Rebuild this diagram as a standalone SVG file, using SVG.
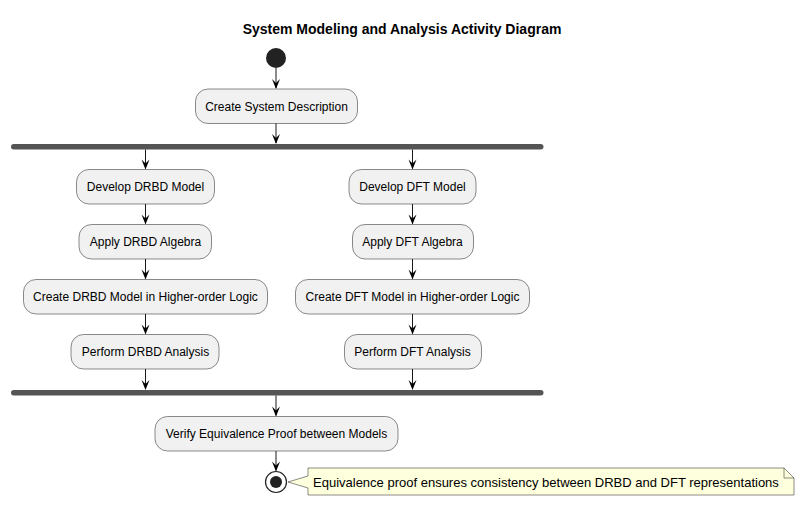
<svg xmlns="http://www.w3.org/2000/svg" width="805" height="506" viewBox="0 0 805 506">
<style>
.act rect{fill:#F1F1F1;stroke:#181818;stroke-width:0.5}
.act text{font-family:"Liberation Sans",Arial,sans-serif;font-size:12px;fill:#000;text-anchor:middle}
.bar{fill:#555555}
.edge line{stroke:#181818;stroke-width:1}
.edge polygon{fill:#181818;stroke:#181818;stroke-width:1}
.title{font-family:"Liberation Sans",Arial,sans-serif;font-size:14px;font-weight:bold;text-anchor:middle}
.note text{font-family:"Liberation Sans",Arial,sans-serif;font-size:13px}
</style>
<defs>
<polygon id="ah" points="-4,-10 0,0 4,-10 0,-6"/>
</defs>
<rect width="805" height="506" fill="#FFFFFF"/>
<text class="title" x="402" y="34">System Modeling and Analysis Activity Diagram</text>

<g id="start"><circle cx="276" cy="58" r="10" fill="#222222"/></g>

<g id="n1" class="act"><rect x="195.5" y="89" width="162" height="34.5" rx="12.5"/><text x="276.5" y="110.5">Create System Description</text></g>

<g id="fork"><rect class="bar" x="11" y="144" width="532.5" height="5.5" rx="2.75"/></g>

<g id="d1" class="act"><rect x="76.5" y="169.5" width="138" height="34.5" rx="12.5"/><text x="145.5" y="191">Develop DRBD Model</text></g>
<g id="d2" class="act"><rect x="79" y="224.5" width="132.5" height="34.5" rx="12.5"/><text x="145.5" y="246">Apply DRBD Algebra</text></g>
<g id="d3" class="act"><rect x="23.5" y="279.5" width="244" height="34.5" rx="12.5"/><text x="145.5" y="301">Create DRBD Model in Higher-order Logic</text></g>
<g id="d4" class="act"><rect x="71" y="334.5" width="148" height="34.5" rx="12.5"/><text x="145.5" y="356">Perform DRBD Analysis</text></g>

<g id="f1" class="act"><rect x="349" y="169.5" width="127" height="34.5" rx="12.5"/><text x="412.5" y="191">Develop DFT Model</text></g>
<g id="f2" class="act"><rect x="352.5" y="224.5" width="121" height="34.5" rx="12.5"/><text x="412.5" y="246">Apply DFT Algebra</text></g>
<g id="f3" class="act"><rect x="295.5" y="279.5" width="234" height="34.5" rx="12.5"/><text x="412.5" y="301">Create DFT Model in Higher-order Logic</text></g>
<g id="f4" class="act"><rect x="344.5" y="334.5" width="137" height="34.5" rx="12.5"/><text x="412.5" y="356">Perform DFT Analysis</text></g>

<g id="join"><rect class="bar" x="11" y="390" width="532.5" height="5.5" rx="2.75"/></g>

<g id="v" class="act"><rect x="155" y="416.5" width="243" height="34.5" rx="12.5"/><text x="276.5" y="438">Verify Equivalence Proof between Models</text></g>

<g id="end"><circle cx="276" cy="482" r="10.5" fill="none" stroke="#222222" stroke-width="1.2"/><circle cx="276" cy="482" r="6" fill="#222222"/></g>

<g id="note" class="note">
<path d="M308,468 L784,468 L794,478 L794,495 L308,495 L308,488 L288,482 L308,476 Z" fill="#FEFFDD" stroke="#181818" stroke-width="0.5"/>
<path d="M784,468 L784,478 L794,478" fill="none" stroke="#181818" stroke-width="0.5"/>
<text x="313" y="486.5">Equivalence proof ensures consistency between DRBD and DFT representations</text>
</g>

<g id="connectors" class="edge">
<line x1="276" y1="68" x2="276" y2="88"/><use href="#ah" x="276" y="89"/>
<line x1="276" y1="123.5" x2="276" y2="143"/><use href="#ah" x="276" y="144"/>
<line x1="145.5" y1="149.5" x2="145.5" y2="168.5"/><use href="#ah" x="145.5" y="169.5"/>
<line x1="412.5" y1="149.5" x2="412.5" y2="168.5"/><use href="#ah" x="412.5" y="169.5"/>
<line x1="145.5" y1="204" x2="145.5" y2="223.5"/><use href="#ah" x="145.5" y="224.5"/>
<line x1="145.5" y1="259" x2="145.5" y2="278.5"/><use href="#ah" x="145.5" y="279.5"/>
<line x1="145.5" y1="314" x2="145.5" y2="333.5"/><use href="#ah" x="145.5" y="334.5"/>
<line x1="145.5" y1="369" x2="145.5" y2="389"/><use href="#ah" x="145.5" y="390"/>
<line x1="412.5" y1="204" x2="412.5" y2="223.5"/><use href="#ah" x="412.5" y="224.5"/>
<line x1="412.5" y1="259" x2="412.5" y2="278.5"/><use href="#ah" x="412.5" y="279.5"/>
<line x1="412.5" y1="314" x2="412.5" y2="333.5"/><use href="#ah" x="412.5" y="334.5"/>
<line x1="412.5" y1="369" x2="412.5" y2="389"/><use href="#ah" x="412.5" y="390"/>
<line x1="276" y1="395.5" x2="276" y2="415.5"/><use href="#ah" x="276" y="416.5"/>
<line x1="276" y1="451" x2="276" y2="470.5"/><use href="#ah" x="276" y="471.5"/>
</g>
</svg>
